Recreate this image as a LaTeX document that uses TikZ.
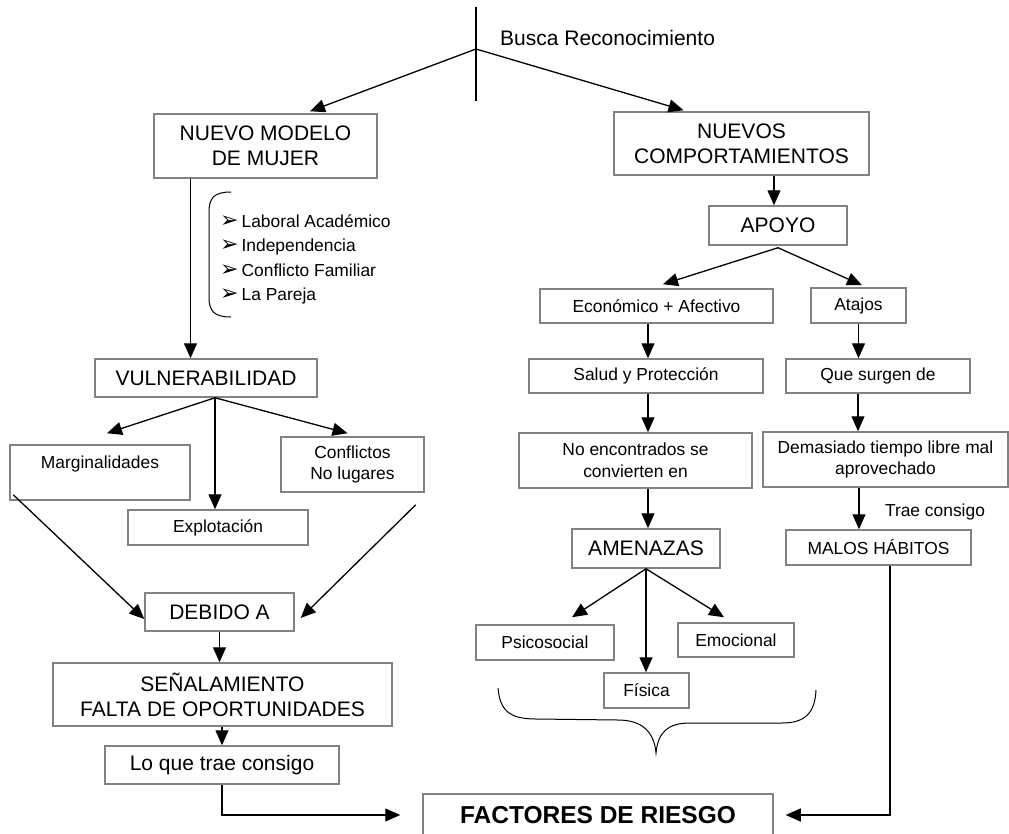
\documentclass[tikz,border=0pt]{standalone}
\usepackage{fontspec}
\setmainfont{Liberation Sans}
\newfontfamily\dingfont{DejaVu Sans}
\usetikzlibrary{arrows.meta}
\definecolor{boxgray}{RGB}{130,130,130}
\newcommand\BigTxt{\fontsize{21}{25}\selectfont}
\newcommand\SmallTxt{\fontsize{17.4}{21.5}\selectfont}
\newcommand\BoldTxt{\fontsize{24.5}{29}\selectfont\bfseries}
\newcommand\ListArrow{{\dingfont\fontsize{22}{22}\selectfont ➢}\hspace{3pt}}

\begin{document}
\begin{tikzpicture}[x=1pt,y=-1pt,
  box/.style={draw=boxgray,line width=1.5pt,align=center,inner sep=0pt},
  big/.style={box,font=\BigTxt},
  small/.style={box,font=\SmallTxt},
  arr/.style={line width=1.3pt,-{Triangle[length=15pt,width=13pt]}},
  link/.style={line width=1.3pt},
  lbl/.style={inner sep=0pt}]
\clip (0,0) rectangle (1009,833);
\fill[white] (0,0) rectangle (1009,833);

% ---------- top branch ----------
\coordinate (stemtop) at (476,7);
\coordinate (stembot) at (476,101);
\coordinate (fork) at (476,49);
\node[lbl,font=\BigTxt,anchor=west] (busca) at (500,38) {Busca Reconocimiento};

\node[big,minimum width=223pt,minimum height=64pt] (nuevo) at (265.5,146) {NUEVO MODELO\\DE MUJER};
\node[big,minimum width=255pt,minimum height=63pt] (nuevos) at (741.5,143.5) {NUEVOS\\COMPORTAMIENTOS};

\draw[link] (stemtop) -- (stembot);
\draw[arr] (fork) -- ([xshift=44.5pt,yshift=2pt]nuevo.north);
\draw[arr] (fork) -- ([xshift=-58pt,yshift=1pt]nuevos.north);

% ---------- left column ----------
\node[big,minimum width=222pt,minimum height=38pt] (vuln) at (206,378) {VULNERABILIDAD};
\draw[arr] ([xshift=-75pt]nuevo.south) -- ([xshift=-75pt]nuevo.south |- vuln.north);

% bracket with the list of traits
\draw[line width=1pt] (231,192) .. controls (214,192) and (209,198) .. (209,212)
  -- (209,297) .. controls (209,311) and (214,317) .. (231,317);
\node[lbl,font=\SmallTxt,anchor=base west] (l1) at (220,227) {\ListArrow Laboral Académico};
\node[lbl,font=\SmallTxt,anchor=base west] (l2) at (220,251) {\ListArrow Independencia};
\node[lbl,font=\SmallTxt,anchor=base west] (l3) at (220,276) {\ListArrow Conflicto Familiar};
\node[lbl,font=\SmallTxt,anchor=base west] (l4) at (220,300) {\ListArrow La Pareja};

\node[small,minimum width=180pt,minimum height=55pt] (marg) at (100,472.5) {Marginalidades\\\mbox{}};
\node[small,minimum width=180pt,minimum height=35pt] (explot) at (218,527.5) {Explotación};
\node[small,minimum width=143pt,minimum height=55pt] (confl) at (352.5,464.5) {Conflictos\\No lugares};

\coordinate (vfork) at ([xshift=9pt]vuln.south);
\draw[arr] (vfork) -- ([xshift=7pt,yshift=11pt]marg.north);
\draw[arr] (vfork) -- (vfork |- explot.north);
\draw[arr] (vfork) -- ([xshift=-5pt,yshift=3pt]confl.north);

\node[big,minimum width=149pt,minimum height=38pt] (debido) at (219.5,612) {DEBIDO A};
\draw[arr] ([shift={(4pt,6pt)}]marg.south west) -- ([yshift=-7pt]debido.west);
\draw[arr] ([shift={(-9pt,-12pt)}]confl.south east) -- ([shift={(6pt,-6pt)}]debido.east);

\node[big,minimum width=339pt,minimum height=63pt] (senal) at (222.5,694.5) {SEÑALAMIENTO\\FALTA DE OPORTUNIDADES};
\node[big,minimum width=234pt,minimum height=38pt] (loque) at (222,765) {Lo que trae consigo};
\draw[arr] (debido.south) -- (debido.south |- senal.north);
\draw[arr] (loque.north |- senal.south) -- (loque.north);

% ---------- bottom ----------
\node[box,font=\BoldTxt,minimum width=350pt,minimum height=42pt] (fac) at (598,815) {FACTORES DE RIESGO};
\draw[arr] (loque.south) |- ([xshift=-22pt]fac.west);

% ---------- right column ----------
\node[big,minimum width=138pt,minimum height=39pt] (apoyo) at (778,225.5) {APOYO};
\draw[arr] ([xshift=-4pt]apoyo.north |- nuevos.south) -- ([xshift=-4pt]apoyo.north);

\node[small,minimum width=233pt,minimum height=34pt] (econ) at (656.5,306) {Económico + Afectivo};
\node[small,minimum width=95pt,minimum height=35pt] (atajos) at (858.5,305.5) {Atajos};
\draw[arr] ([yshift=-2pt]apoyo.south) -- ([shift={(6.5pt,4pt)}]econ.north);
\draw[arr] ([yshift=-2pt]apoyo.south) -- ([shift={(3.5pt,2pt)}]atajos.north);

\node[small,minimum width=234pt,minimum height=34pt] (salud) at (646,376) {Salud y Protección};
\node[small,minimum width=184pt,minimum height=34pt] (que) at (878,376) {Que surgen de};
\draw[arr] ([xshift=2pt]salud.north |- econ.south) -- ([xshift=2pt]salud.north);
\draw[arr] (atajos.south) -- (atajos.south |- que.north);

\node[small,minimum width=233pt,minimum height=55pt] (noenc) at (635.5,460.5) {No encontrados se\\convierten en};
\node[small,minimum width=245pt,minimum height=55pt] (demas) at (885.5,459.5) {Demasiado tiempo libre mal\\aprovechado};
\draw[arr] ([xshift=2pt]salud.south) -- ([xshift=2pt]salud.south |- noenc.north);
\draw[arr] ([xshift=-20pt]que.south) -- ([xshift=-20pt]que.south |- demas.north);

\node[big,minimum width=148pt,minimum height=39pt] (amen) at (646,548.5) {AMENAZAS};
\node[small,minimum width=185pt,minimum height=35pt] (malos) at (878.5,547.5) {MALOS HÁBITOS};
\node[lbl,font=\SmallTxt] (trae) at (935,512) {Trae consigo};
\draw[arr] ([xshift=2pt]amen.north |- noenc.south) -- ([xshift=2pt]amen.north);
\draw[arr] ([xshift=-19.5pt]malos.north |- demas.south) -- ([xshift=-19.5pt]malos.north);

\node[small,minimum width=138pt,minimum height=35pt] (psico) at (545,642.5) {Psicosocial};
\node[small,minimum width=116pt,minimum height=34pt] (emoc) at (736,640) {Emocional};
\node[small,minimum width=85pt,minimum height=35pt] (fisica) at (646.5,690.5) {Física};
\draw[arr] (amen.south) -- ([shift={(27pt,7pt)}]psico.north);
\draw[arr] (amen.south) -- (amen.south |- fisica.north);
\draw[arr] (amen.south) -- ([shift={(-12pt,5pt)}]emoc.north);

% curly brace under the three threats
\draw[line width=1pt] (498,688) .. controls (500,711) and (510,719) .. (536,719)
  -- (618,720) .. controls (640,720) and (654,730) .. (656,753)
  .. controls (658,732) and (668,723) .. (690,723)
  -- (782,723) .. controls (806,723) and (815,712) .. (816,690);

\draw[arr] ([xshift=11.5pt]malos.south) |- ([xshift=12pt]fac.east);
\end{tikzpicture}
\end{document}
